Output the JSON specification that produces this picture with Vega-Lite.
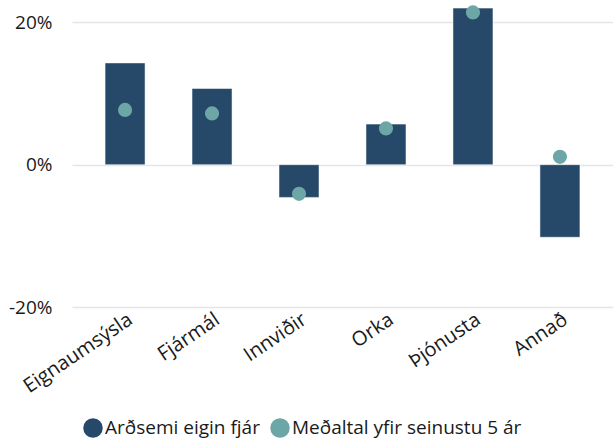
{
  "$schema": "https://vega.github.io/schema/vega-lite/v6.json",
  "width": 541,
  "height": 306,
  "padding": {"left": 8, "top": 1, "right": 0, "bottom": 4},
  "background": "white",
  "config": {
    "font": "Open Sans",
    "view": {"stroke": null},
    "axis": {"labelFont": "Open Sans", "labelColor": "#1a1a1a", "labelFontSize": 19}
  },
  "data": {
    "values": [
      {"category": "Eignaumsýsla", "series": "Arðsemi eigin fjár", "value": 0.143},
      {"category": "Fjármál", "series": "Arðsemi eigin fjár", "value": 0.107},
      {"category": "Innviðir", "series": "Arðsemi eigin fjár", "value": -0.046},
      {"category": "Orka", "series": "Arðsemi eigin fjár", "value": 0.057},
      {"category": "Þjónusta", "series": "Arðsemi eigin fjár", "value": 0.22},
      {"category": "Annað", "series": "Arðsemi eigin fjár", "value": -0.102},
      {"category": "Eignaumsýsla", "series": "Meðaltal yfir seinustu 5 ár", "value": 0.077},
      {"category": "Fjármál", "series": "Meðaltal yfir seinustu 5 ár", "value": 0.072},
      {"category": "Innviðir", "series": "Meðaltal yfir seinustu 5 ár", "value": -0.041},
      {"category": "Orka", "series": "Meðaltal yfir seinustu 5 ár", "value": 0.051},
      {"category": "Þjónusta", "series": "Meðaltal yfir seinustu 5 ár", "value": 0.214},
      {"category": "Annað", "series": "Meðaltal yfir seinustu 5 ár", "value": 0.011}
    ]
  },
  "encoding": {
    "x": {
      "field": "category",
      "type": "nominal",
      "sort": null,
      "title": null,
      "scale": {"paddingInner": 0.54, "paddingOuter": 0.38},
      "axis": {"labelAngle": -34, "labelFontSize": 20, "domain": false, "ticks": false, "labelPadding": 2, "grid": false}
    },
    "y": {
      "field": "value",
      "type": "quantitative",
      "title": null,
      "scale": {"domain": [-0.2, 0.23], "nice": false, "zero": false},
      "axis": {"values": [-0.2, 0, 0.2], "format": ".0%", "labelExpr": "replace(datum.label, '−', '-')", "domain": false, "ticks": false, "labelPadding": 20, "grid": true, "gridColor": "#e5e5e5", "gridWidth": 1.5}
    },
    "color": {
      "field": "series",
      "type": "nominal",
      "title": null,
      "scale": {"domain": ["Arðsemi eigin fjár", "Meðaltal yfir seinustu 5 ár"], "range": ["#274969", "#6ca6a6"]},
      "legend": {"orient": "none", "legendX": 11, "legendY": 417, "direction": "horizontal", "symbolType": "circle", "symbolSize": 380, "symbolOpacity": 1, "labelFontSize": 19, "labelColor": "#1a1a1a", "labelFont": "Open Sans", "labelLimit": 400, "labelOffset": 2, "columnPadding": 10, "symbolStrokeWidth": 0, "padding": 0}
    }
  },
  "layer": [
    {
      "transform": [{"filter": "datum.series === 'Arðsemi eigin fjár'"}],
      "mark": {"type": "bar", "stroke": "#ffffff", "strokeWidth": 0.5}
    },
    {
      "transform": [{"filter": "datum.series === 'Meðaltal yfir seinustu 5 ár'"}],
      "mark": {"type": "point", "filled": true, "opacity": 1, "size": 200}
    }
  ]
}
